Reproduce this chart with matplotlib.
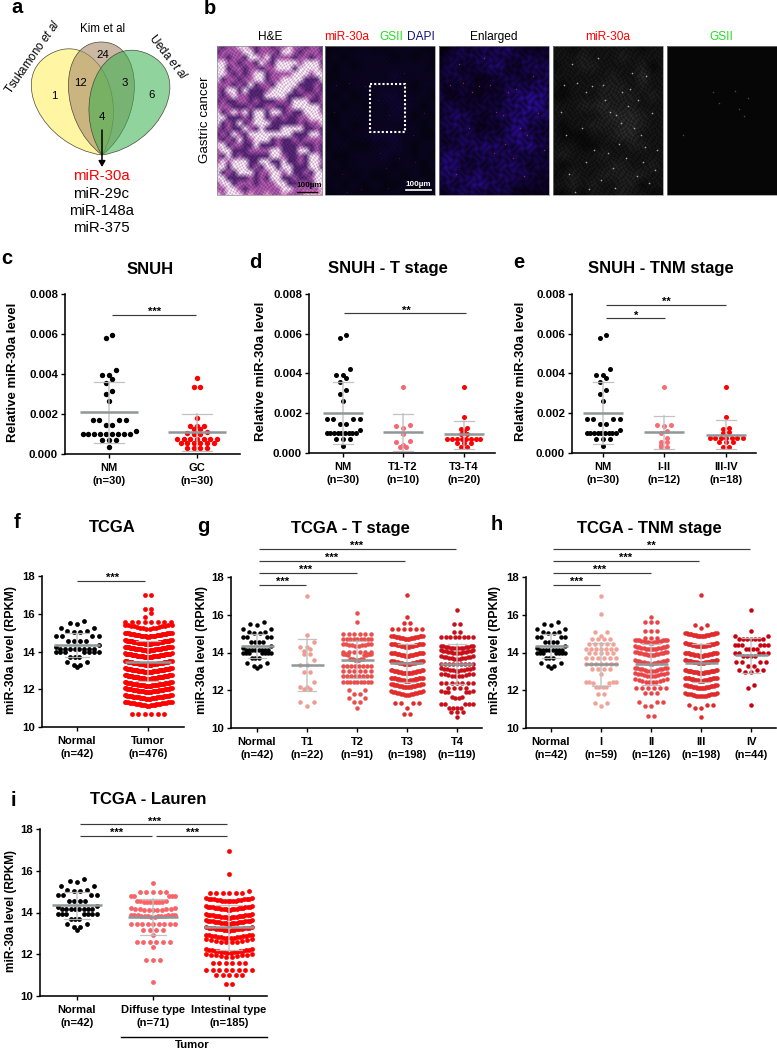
import numpy as np
import matplotlib
matplotlib.use('Agg')
import matplotlib.pyplot as plt
from matplotlib.path import Path
from matplotlib.patches import PathPatch, Rectangle

plt.rcParams['font.family'] = ['Liberation Sans', 'DejaVu Sans']
plt.rcParams['mathtext.fontset'] = 'custom'
plt.rcParams['mathtext.rm'] = 'Liberation Sans'
plt.rcParams['mathtext.it'] = 'Liberation Sans:italic'

# ---------- data ----------
nm_snuh = [.00594, .00579, .0042, .00393, .00393, .00377, .00356, .00316, .00298, .00263,
           .00172, .00172, .00172, .00172, .00147, .00147, .00115,
           .00100, .00100, .00100, .00100, .00100, .00100, .00100, .00100, .00100,
           .00072, .00072, .00072, .00035]
gc_snuh = [.00382, .00333, .00333, .0018, .00139, .00139, .00139, .00125, .00125, .0011, .00105,
           .00100, .00100, .00077, .00077, .00077, .00077, .00077, .00077, .00077,
           .00055, .00055, .00055, .00055, .00055, .00055, .00028, .00028, .00028, .00028]
t12_snuh = [.00333, .0014, .00137, .00125, .00095, .00058, .00055, .0004, .00028, .00028]
t34_snuh = [.00333, .0018, .00125, .00122, .00108, .00095, .00095,
            .00072, .00072, .00072, .00072, .00072, .00072, .00072, .00072,
            .00052, .00052, .00052, .00028, .00028]
s12_snuh = [.00333, .0014, .00135, .0014, .0011, .00098, .00075, .00055, .00053, .0004, .00028, .00028]
s34_snuh = [.00333, .0018, .00122, .00125, .00102, .00105,
            .00075, .00075, .00075, .00075, .00075, .00075, .00075,
            .00055, .00055, .00055, .00028, .00028]

normal_tcga = [15.62, 15.52, 15.48, 15.27, 15.25, 15.09, 15.09, 15.01, 15.01,
               14.82, 14.82, 14.82, 14.82, 14.56, 14.56, 14.56, 14.56, 14.33, 14.25,
               14.15, 14.15, 14.15, 14.15, 14.15, 14.15, 14.15, 14.15,
               13.95, 13.95, 13.95, 13.95, 13.95, 13.95, 13.95,
               13.7, 13.7, 13.7, 13.45, 13.43, 13.3, 13.3, 13.17]
t1_tcga = [16.99, 14.93, 14.54, 14.31, 14.31, 14.18, 14.08, 13.9, 13.9, 13.58, 13.34, 13.34,
           12.95, 12.95, 12.42, 12.19, 12.19, 12.06, 12.06, 11.36, 11.36, 11.16]

tumor_levels = [17.0, 16.25, 16.02, 15.85, 15.55, 15.2, 14.78, 14.39, 14.04, 13.69, 13.28, 12.90,
                12.54, 12.16, 11.84, 11.48, 11.13, 10.7]
tumor_counts = [2, 2, 1, 1, 8, 16, 36, 45, 45, 45, 45, 45, 45, 38, 36, 34, 26, 6]
t2_levels = [16.07, 15.63, 15.0, 14.7, 14.34, 14.04, 13.8, 13.6, 13.28, 13.02, 12.75, 12.45,
             12.0, 11.78, 11.57, 11.39, 11.04]
t2_counts = [1, 1, 6, 9, 10, 6, 9, 9, 8, 6, 8, 9, 2, 2, 2, 2, 1]
t3_levels = [17.05, 15.86, 15.58, 15.25, 14.7, 14.29, 13.81, 13.37, 12.88, 12.49, 12.14, 11.75,
             11.3, 11.05, 10.75]
t3_counts = [1, 1, 2, 6, 22, 24, 24, 24, 24, 24, 22, 17, 4, 1, 2]
t4_levels = [16.25, 15.52, 15.1, 14.8, 14.2, 13.95, 13.65, 13.37, 13.02, 12.72, 12.4, 12.1,
             11.8, 11.57, 11.25, 11.04, 10.86, 10.6]
t4_counts = [1, 2, 2, 8, 14, 14, 13, 9, 12, 10, 7, 4, 6, 4, 5, 4, 3, 1]
s1_levels = [16.99, 16.04, 15.1, 14.9, 14.7, 14.45, 14.2, 13.95, 13.7, 13.4, 13.1, 12.85,
             12.35, 12.15, 11.8, 11.35, 11.15]
s1_counts = [1, 1, 2, 1, 4, 5, 7, 5, 6, 7, 4, 1, 6, 4, 2, 2, 1]
s2_levels = [15.86, 15.6, 15.15, 14.75, 14.5, 14.15, 13.85, 13.4, 13.0, 12.72, 12.4, 12.1,
             11.85, 11.36, 11.15, 10.65]
s2_counts = [1, 3, 3, 3, 16, 16, 16, 16, 14, 12, 10, 6, 3, 3, 2, 2]
s3_levels = [17.05, 15.45, 15.3, 14.84, 14.31, 13.81, 13.42, 12.89, 12.49, 12.1, 11.66, 11.2, 11.05, 10.6]
s3_counts = [1, 2, 1, 22, 24, 26, 26, 26, 24, 22, 18, 3, 2, 1]
s4_levels = [16.25, 15.15, 14.9, 14.7, 14.4, 14.2, 14.0, 13.8, 13.5, 13.3, 13.05, 12.95, 12.3, 12.1, 11.2]
s4_counts = [1, 1, 2, 7, 6, 4, 5, 4, 4, 2, 3, 2, 1, 1, 1]
diffuse_levels = [15.41, 15.0, 14.7, 14.48, 14.1, 13.8, 13.47, 13.15, 12.92, 12.6, 12.33, 11.72, 10.68]
diffuse_counts = [1, 5, 5, 10, 11, 14, 9, 4, 1, 6, 1, 3, 1]
intest_levels = [16.96, 15.83, 15.04, 14.95, 14.52, 14.12, 13.75, 13.45, 13.13, 12.76, 12.55,
                 12.07, 11.85, 11.6, 11.25, 11.0, 10.57]
intest_counts = [1, 1, 1, 6, 18, 22, 22, 22, 19, 16, 10, 16, 10, 6, 8, 5, 2]

summ_c = [(.00208, .00362, .00053), (.0011, .002, .00017)]
summ_d = [(.00203, .00357, .00045), (.00103, .00195, .0001), (.00094, .0016, .00022)]
summ_e = [(.00203, .00357, .00045), (.00103, .00187, .0002), (.00092, .00165, .00022)]
summ_f = [(14.35, 15.0, 13.7), (13.47, 14.55, 12.42)]
summ_g = [(14.33, 15.0, 13.7), (13.35, 14.7, 11.97), (13.6, 14.6, 12.63), (13.45, 14.45, 12.45), (13.4, 14.45, 12.35)]
summ_h = [(14.33, 15.0, 13.7), (13.38, 14.5, 12.2), (13.38, 14.45, 12.28), (13.45, 14.43, 12.45), (13.85, 14.75, 12.93)]
summ_i = [(14.35, 15.0, 13.7), (13.78, 14.65, 12.9), (13.3, 14.35, 12.2)]

labels_c = ['NM\n(n=30)', 'GC\n(n=30)']
labels_d = ['NM\n(n=30)', 'T1-T2\n(n=10)', 'T3-T4\n(n=20)']
labels_e = ['NM\n(n=30)', 'I-II\n(n=12)', 'III-IV\n(n=18)']
labels_f = ['Normal\n(n=42)', 'Tumor\n(n=476)']
labels_g = ['Normal\n(n=42)', 'T1\n(n=22)', 'T2\n(n=91)', 'T3\n(n=198)', 'T4\n(n=119)']
labels_h = ['Normal\n(n=42)', 'I\n(n=59)', 'II\n(n=126)', 'III\n(n=198)', 'IV\n(n=44)']
labels_i = ['Normal\n(n=42)', 'Diffuse type\n(n=71)', 'Intestinal type\n(n=185)']

# ---------- tissue image tone maps, read coarsely ----------
he_map = """mdmmwwmdmmdmmwmmdmmd
dmmmmwwdmmmdwwmdmmmd
mmdmmdwwmwdmmmdmmdmm
wwmmdmmdwmdwwwwmwwwd
wwdmmdmmdmmwwwdwwwwm
wwmdmdmwwdmmmmwwwmww
wdmmdmmwwdmmwwwwdddw
mmmdmdwdmmdwwwwdddmd
mdwwdwdddmwwwwdmddmd
mdmwmmdddwwwwdddmmdm
dmddmmdmdddmmdwwwddm
mmmdddmddmmddmwwwwwd
wdmwmwdwwdwwdmddwwwm
wwdddmdwwdmdmddmmwww
wdmdwdmwwwdddddmdmmw
mdmddwmdwdddwwwwddmd
dmdwmdwwwwwwwwdddwwd
mdmdwdmwwwdmddmdmmmm
wwdmmddwdddmdddmddmd
mwwdddmmmmwwdddwwdmd
mdwdmdddddwwmddmdwwd
mwmwwwddwwddwddmdwwm
wwdwwwdmdwwdwwdddwwd
wdmdwwwdmmwwmwddmdww
wwddddmdmdwwddmddmww
mwwdmmmdmmmwwddmmdww
mmwwmdmmmmmmwwmmmmmw
wmwwwmlmmlmmlmmmllll""".split()
blue_map = """013233442113
123343333322
132234422433
233212332234
222212233354
312212245555
232232245653
234322345544
244312245332
233323345433
223444435533
344343343322
453233344232
354343443322
243454432222
123332321111""".split()
overview_map = """112121122211
121222212121
212122222221
112222232222
121222222122
212122332221
121212233212
112222232121
212122222212
121223332211
122112232122
211222322121
121222212212
212121121211
121212112122
112111121111""".split()
grey_map = """221222222122
222322232222
122332222312
222222322422
212223332322
112223333232
222334333222
222223444322
212233344322
211122344222
222112223322
232223222222
212222332232
123223333322
223232233122
112122232211""".split()
speck_x = [.1, .18, .22, .3, .36, .41, .46, .52, .58, .63, .7, .74, .8, .85, .9, .95, .15, .27, .5, .6,
           .67, .77, .88, .12, .33, .44, .55, .69, .82, .93, .2, .38, .48, .62, .72, .84, .08, .3, .57, .78]
speck_y = [.26, .12, .25, .31, .27, .08, .26, .44, .46, .31, .29, .55, .6, .2, .45, .7, .86, .55, .72, .66,
           .75, .87, .92, .6, .96, .9, .82, .4, .78, .83, .98, .7, .36, .52, .18, .68, .44, .78, .95, .36]
gsii_x = [.42, .62, .74, .48, .15, .66, .70]
gsii_y = [.31, .30, .35, .38, .6, .42, .47]

W, H = 777, 1050
fig = plt.figure(figsize=(W / 100, H / 100), dpi=100, facecolor='white')
ov = fig.add_axes([0, 0, 1, 1], zorder=5)
ov.patch.set_alpha(0)
ov.axis('off')


def txt(x, y, s, size=8.2, weight='normal', color='black', rot=0, ha='center', va='center'):
    ov.text(x, y, s, fontsize=size, fontweight=weight, color=color, rotation=rot, ha=ha, va=va,
            rotation_mode='anchor')


def leaf(tip, top, half, fc, alpha):
    tip, top = np.array(tip, float), np.array(top, float)
    u = top - tip
    L = np.hypot(*u)
    u /= L
    n = np.array([u[1], -u[0]])
    a = half / .75
    def P(x, y):
        return tip + x * n + y * u
    verts = [P(0, 0), P(a, .3 * L), P(a, L), P(0, L), P(-a, L), P(-a, .3 * L), P(0, 0), P(0, 0)]
    codes = [Path.MOVETO] + [Path.CURVE4] * 6 + [Path.CLOSEPOLY]
    ov.add_patch(PathPatch(Path(verts, codes), facecolor=fc, alpha=alpha, lw=0))
    ov.add_patch(PathPatch(Path(verts, codes), facecolor='none', edgecolor='#4a4a3c', lw=.5))


def resample(arr, nx, ny):
    """Bilinear enlargement of a coarse tone map, then a fine cell-like grain."""
    rows, cols = arr.shape[:2]
    yy = np.linspace(0, rows - 1, ny)
    xx = np.linspace(0, cols - 1, nx)
    y0 = np.floor(yy).astype(int).clip(0, rows - 2)
    x0 = np.floor(xx).astype(int).clip(0, cols - 2)
    fy = (yy - y0)[:, None]
    fx = (xx - x0)[None, :]
    if arr.ndim == 3:
        fy = fy[..., None]
        fx = fx[..., None]
    top = arr[y0][:, x0] * (1 - fx) + arr[y0][:, x0 + 1] * fx
    bot = arr[y0 + 1][:, x0] * (1 - fx) + arr[y0 + 1][:, x0 + 1] * fx
    return top * (1 - fy) + bot * fy


def grain(nx, ny, amp, fx=1.7, fy=1.5):
    X, Y = np.meshgrid(np.arange(nx), np.arange(ny))
    g = np.sin(fx * X + 1.6 * np.sin(.37 * Y)) * np.sin(fy * Y + 1.4 * np.sin(.41 * X))
    return 1 + amp * g


# ---------- panel a ----------
leaf((102, 155), (52, 53), 38, '#fff06a', .62)
leaf((102, 155), (101, 42), 33, '#a88a68', .6)
leaf((102, 155), (148, 54), 38, '#36b04c', .55)
for x, y, s in [(54.5, 96, '1'), (80, 83, '12'), (102.5, 55, '24'), (125, 83, '3'), (152, 95, '6'), (101.5, 117, '4')]:
    txt(x, y, s, size=8.2)
ov.annotate('', xy=(102, 167), xytext=(102, 130),
            arrowprops=dict(arrowstyle='-|>,head_width=.2,head_length=.35', color='black', lw=1.1,
                            shrinkA=0, shrinkB=0))
txt(103, 29, 'Kim et al', size=8.3)
txt(33, 57, r'Tsukamono $\mathit{et\ al}$', size=8.3, rot=55)
txt(168, 57, r'Ueda $\mathit{et\ al}$', size=8.3, rot=-52)
for y, s, c in [(176, 'miR-30a', '#ff0000'), (194, 'miR-29c', 'black'), (211, 'miR-148a', 'black'), (228, 'miR-375', 'black')]:
    txt(101, y, s, size=10.8, color=c)

# ---------- panel b ----------
he_cols = {'w': (238, 214, 234), 'l': (225, 150, 195), 'm': (160, 80, 160), 'd': (80, 35, 110)}
he = np.array([[he_cols[c] for c in row] for row in he_map], dtype=float) / 255
he_big = resample(he, 106, 149) * grain(106, 149, .2)[..., None]
ov.imshow(he_big.clip(0, 1), extent=(216.5, 322, 195, 46), aspect='auto', interpolation='bilinear', zorder=1)

b = resample(np.array([[int(c) for c in r] for r in blue_map], float), 110, 149) * grain(110, 149, .45, .55, .5)
blue = np.dstack([b * .02 + .01, b * .006, b * .075 + .01]).clip(0, 1)
ov.imshow(blue, extent=(439, 549, 195, 46), aspect='auto', interpolation='bilinear', zorder=1)
o = resample(np.array([[int(c) for c in r] for r in overview_map], float), 110, 149) * grain(110, 149, .35)
over = np.dstack([o * .014 + .01, o * .004 + .01, o * .05 + .02]).clip(0, 1)
ov.imshow(over, extent=(325, 435, 195, 46), aspect='auto', interpolation='bilinear', zorder=1)
g = resample(np.array([[int(c) for c in r] for r in grey_map], float), 110, 149) * grain(110, 149, .35, 1.3, 1.1)
grey = np.dstack([g * .035] * 3).clip(0, 1)
ov.imshow(grey, extent=(552.5, 662.5, 195, 46), aspect='auto', interpolation='bilinear', zorder=1)
ov.add_patch(Rectangle((666.5, 46), 110.5, 149, fc='#060606', ec='none', zorder=1))
ov.scatter(552.5 + 110 * np.array(speck_x), 46 + 149 * np.array(speck_y), s=1.4, c='#a8a8a8', lw=0, zorder=2)
ov.scatter(666.5 + 110 * np.array(gsii_x), 46 + 149 * np.array(gsii_y), s=1.2, c='#4a4a4a', lw=0, zorder=2)
ov.scatter(439 + 110 * np.array(speck_x[:22]), 46 + 149 * np.array(speck_y[:22]), s=1.0, c='#a0204a', lw=0, zorder=2)
ov.scatter(325 + 110 * np.array(speck_x[::2]), 46 + 149 * np.array(speck_y[::2]), s=.6, c='#5a1030', lw=0, zorder=2)
for x0, x1 in [(216.5, 322), (325, 435), (439, 549), (552.5, 662.5), (666.5, 777)]:
    ov.add_patch(Rectangle((x0, 46), x1 - x0, 149, fc='none', ec='#8a8a8a', lw=.5, zorder=3))
ov.add_patch(Rectangle((370, 84), 35, 48, fc='none', ec='white', lw=1.5, ls=(0, (1, 1)), zorder=4))
ov.plot([297, 317], [191.7, 191.7], color='black', lw=1, zorder=4)
txt(309, 185.5, '100µm', size=5.8, weight='bold')
ov.plot([406, 431], [190, 190], color='white', lw=1.2, zorder=4)
txt(418, 184, '100µm', size=5.8, weight='bold', color='white')
txt(270, 37, 'H&E', size=8.6)
txt(347, 37, 'miR-30a', size=8.6, color='#ff0000', ha='center')
txt(391, 37, 'GSII', size=8.6, color='#22dd22')
txt(421, 37, 'DAPI', size=8.6, color='#101080')
txt(494, 37, 'Enlarged', size=8.6)
txt(608, 37, 'miR-30a', size=8.6, color='#ff0000')
txt(721, 37, 'GSII', size=8.6, color='#22dd22')
txt(205, 120, 'Gastric cancer', size=9.6, rot=90)

# ---------- panel letters and titles ----------
for s, x, y in [('a', 17, 7.5), ('b', 210, 9), ('c', 7, 259), ('d', 255, 262), ('e', 519, 262),
                ('f', 17, 523), ('g', 203, 527), ('h', 497, 524), ('i', 13, 801)]:
    txt(x, y, s, size=14.5, weight='bold')
for s, x, y in [('SNUH', 150, 269), ('SNUH - T stage', 388, 269), ('SNUH - TNM stage', 661, 269),
                ('TCGA', 112, 528), ('TCGA - T stage', 350, 528), ('TCGA - TNM stage', 649, 528),
                ('TCGA - Lauren', 148, 800)]:
    txt(x, y, s, size=12, weight='bold')


def layout(values, cx, cap, dx, tol, smile, scale):
    """Beeswarm rows: close values share a row, lowest at the centre, spread outwards."""
    vals = np.sort(np.asarray(values, float))[::-1]
    xs, ys = [], []
    i = 0
    while i < len(vals):
        j = i
        while j < len(vals) and vals[i] - vals[j] <= tol:
            j += 1
        row = vals[i:j][::-1]
        n = len(row)
        sp = min(dx, cap / (n - 1)) if n > 1 else 0
        slots = (np.arange(n) - (n - 1) / 2) * sp
        order = np.argsort(np.abs(slots) + 1e-6 * slots, kind='stable')
        maxo = max(np.abs(slots).max(), 1e-9)
        for v, k in zip(row, order):
            off = slots[k]
            shift = smile * (abs(off) / maxo) if n >= 10 else 0
            xs.append(cx + off)
            ys.append(v + shift / scale)
        i = j
    return np.array(xs), np.array(ys)


def panel(l, r, top, bot, ylim, yticks, yfmt, centers, labels, groups, summ, size, half, cap_half, ylabel, ylx, ylsize):
    ax = fig.add_axes([l / W, 1 - bot / H, (r - l) / W, (bot - top) / H], zorder=2)
    ax.set_xlim(l, r)
    ax.set_ylim(*ylim)
    scale = (bot - top) / (ylim[1] - ylim[0])
    for cx, grp, (m, hi, lo) in zip(centers, groups, summ):
        x, y = layout(grp['v'], cx, grp['cap'], grp.get('dx', 6.6), grp['tol'], grp.get('smile', 0), scale)
        ax.scatter(x, y, s=size, c=grp['c'], lw=0, zorder=3, clip_on=False)
        ax.plot([cx, cx], [lo, hi], color='#c2c2c2', lw=1.1, alpha=.9, zorder=4)
        for v in (lo, hi):
            ax.plot([cx - cap_half, cx + cap_half], [v, v], color='#bcbcbc', lw=.9, alpha=.9, zorder=4)
        ax.plot([cx - half, cx + half], [m, m], color='#8f9798', lw=1.8, zorder=5, solid_capstyle='butt')
    for s in ('top', 'right'):
        ax.spines[s].set_visible(False)
    for s in ('left', 'bottom'):
        ax.spines[s].set_linewidth(1.15)
    ax.set_xticks(centers)
    ax.set_xticklabels(labels, fontsize=8.0, fontweight='bold', linespacing=1.4)
    ax.set_yticks(yticks)
    ax.set_yticklabels([yfmt % t for t in yticks], fontsize=8.2, fontweight='bold')
    ax.tick_params(axis='both', length=3, width=1.0, pad=2)
    ax.tick_params(axis='x', pad=3.5)
    txt(ylx, (top + bot) / 2 - 2, ylabel, size=ylsize, weight='bold', rot=90)


def dense(levels, counts):
    return np.repeat(levels, counts)


RED = '#ff0000'
Y1 = [0, .002, .004, .006, .008]
Y2 = [10, 12, 14, 16, 18]
YL1 = 'Relative miR-30a level'
YL2 = 'miR-30a level (RPKM)'

panel(65, 240, 294, 454, (0, .008), Y1, '%.3f', [109, 197], labels_c,
      [dict(v=nm_snuh, c='black', cap=53, tol=.00028),
       dict(v=gc_snuh, c=RED, cap=50, tol=.00012)],
      summ_c, 15, 29, 15, YL1, 13, 9.5)
panel(309, 495, 293.7, 453, (0, .008), Y1, '%.3f', [343, 403, 464], labels_d,
      [dict(v=nm_snuh, c='black', cap=33, tol=.00028),
       dict(v=t12_snuh, c='#fb6470', cap=33, tol=.00021),
       dict(v=t34_snuh, c=RED, cap=33, tol=.00012)],
      summ_d, 13, 20, 10, YL1, 261, 9.5)
panel(572, 756, 293.7, 453, (0, .008), Y1, '%.3f', [603, 664, 726], labels_e,
      [dict(v=nm_snuh, c='black', cap=33, tol=.00028),
       dict(v=s12_snuh, c='#fb6b74', cap=33, tol=.00021),
       dict(v=s34_snuh, c=RED, cap=33, tol=.00012)],
      summ_e, 13, 20, 10, YL1, 521, 9.5)

panel(41.7, 184, 576, 727, (10, 18), Y2, '%d', [77, 148], labels_f,
      [dict(v=normal_tcga, c='black', cap=43, tol=.27),
       dict(v=dense(tumor_levels, tumor_counts), c=RED, cap=47, dx=6.5, tol=.2, smile=4)],
      summ_f, 12, 23, 12, YL2, 11, 8.9)
panel(231, 482, 577, 728, (10, 18), Y2, '%d', [257, 307, 357, 407, 457], labels_g,
      [dict(v=normal_tcga, c='black', cap=28, tol=.27),
       dict(v=t1_tcga, c='#ee9d92', cap=32, tol=.26),
       dict(v=dense(t2_levels, t2_counts), c='#e8504e', cap=28, dx=5.5, tol=.23, smile=2.5),
       dict(v=dense(t3_levels, t3_counts), c='#e32b2b', cap=32, dx=6, tol=.26, smile=3.5),
       dict(v=dense(t4_levels, t4_counts), c='#c8101a', cap=32, dx=6, tol=.24, smile=3)],
      summ_g, 10.5, 16.5, 9, YL2, 202, 8.9)
panel(526, 776, 577, 728, (10, 18), Y2, '%d', [551, 601, 651, 701, 751], labels_h,
      [dict(v=normal_tcga, c='black', cap=28, tol=.27),
       dict(v=dense(s1_levels, s1_counts), c='#f0a398', cap=30, dx=6, tol=.22, smile=1.5),
       dict(v=dense(s2_levels, s2_counts), c='#e94548', cap=32, dx=6, tol=.22, smile=3.5),
       dict(v=dense(s3_levels, s3_counts), c='#e02a2c', cap=32, dx=6, tol=.22, smile=3.5),
       dict(v=dense(s4_levels, s4_counts), c='#c9000f', cap=33, dx=6, tol=.22)],
      summ_h, 10.5, 16.5, 9, YL2, 495, 8.9)
panel(40, 267, 829, 996, (10, 18), Y2, '%d', [77, 153, 229], labels_i,
      [dict(v=normal_tcga, c='black', cap=39, tol=.27),
       dict(v=dense(diffuse_levels, diffuse_counts), c='#f96468', cap=44, tol=.22, smile=2),
       dict(v=dense(intest_levels, intest_counts), c=RED, cap=46, dx=6.5, tol=.2, smile=3.5)],
      summ_i, 12, 25, 13, YL2, 11, 8.6)

# ---------- significance brackets ----------
brackets = [(112, 196, 314.7, 155, '***'), (344, 466, 313, 406, '**'),
            (606, 726, 304.7, 666, '**'), (606, 665, 318, 636, '*'),
            (77, 145, 580.7, 113, '***'),
            (259, 306, 584.7, 283, '***'), (259, 357, 572.7, 306, '***'),
            (259, 405, 560.7, 332, '***'), (259, 456, 548.7, 357, '***'),
            (553, 600, 584.7, 577, '***'), (553, 651, 572.7, 600, '***'),
            (553, 699, 560.7, 626, '***'), (553, 750, 548.7, 651, '**'),
            (80, 227, 824, 155, '***'), (80, 152, 835.7, 117, '***'), (156, 227, 835.7, 193, '***')]
for x0, x1, y, xt, s in brackets:
    ov.plot([x0, x1], [y, y], color='#3a3a3a', lw=.85, solid_capstyle='butt')
    txt(xt, y - 2.5, s, size=8, weight='bold')

ov.plot([121, 267], [1037, 1037], color='black', lw=1)
txt(192, 1045, 'Tumor', size=8.2, weight='bold')

ov.set_xlim(0, W)
ov.set_ylim(H, 0)
fig.savefig('out.png', dpi=100)
